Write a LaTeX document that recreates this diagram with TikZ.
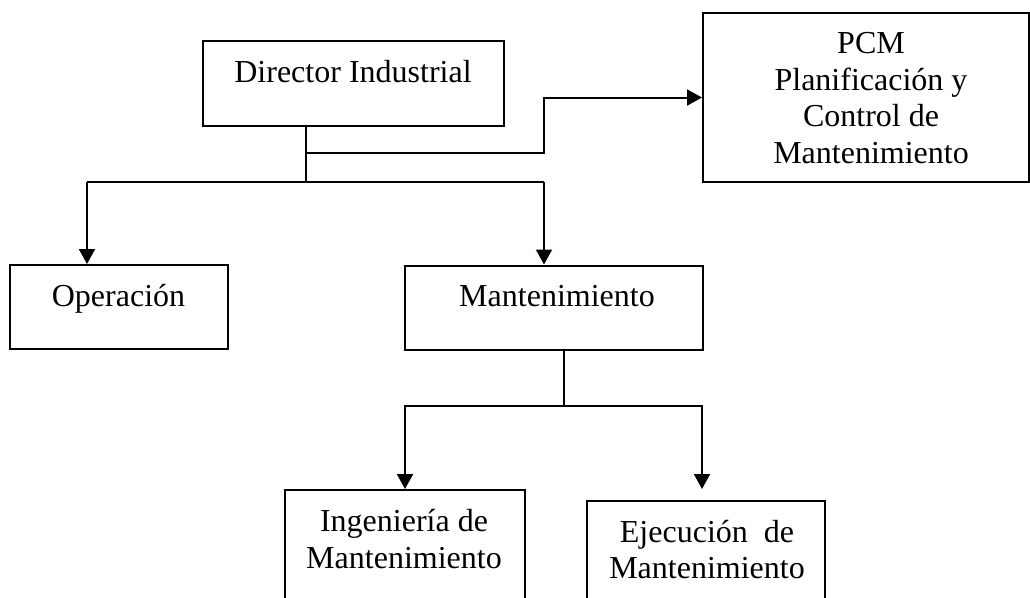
\documentclass[tikz,border=0pt]{standalone}
\usepackage{fontspec}
\setmainfont{Liberation Serif}
\usetikzlibrary{arrows.meta,calc}
\begin{document}
\begin{tikzpicture}[x=1pt,y=-1pt,line width=2pt,
  box/.style={draw,rectangle,inner sep=0pt},
  lbl/.style={font=\fontsize{32}{36.7}\selectfont,align=center,anchor=base,inner sep=0pt},
  arr/.style={-{Triangle[width=16pt,length=15pt]}}]
\useasboundingbox (0,0) rectangle (1030,597);
\clip (0,0) rectangle (1030,597);
\fill[white] (0,0) rectangle (1030,597);
% boxes
\node[box,minimum width=301pt,minimum height=84.7pt] (dir) at (353.5,83.3) {};
\node[box,minimum width=326pt,minimum height=168.4pt] (pcm) at (866,97.5) {};
\node[box,minimum width=217.7pt,minimum height=84pt] (op) at (118.8,307) {};
\node[box,minimum width=298pt,minimum height=84pt] (man) at (554,307.5) {};
\node[box,minimum width=240pt,minimum height=130pt] (ing) at (405,555) {};
\node[box,minimum width=238pt,minimum height=130pt] (eje) at (706,566) {};
% labels (base = baseline of the last line)
\node[lbl] (tdir) at (353,82) {Director Industrial};
\node[lbl] (tpcm) at (871,163.6) {PCM\\Planificación y\\Control de\\Mantenimiento};
\node[lbl] (top) at (118.5,306.5) {Operación};
\node[lbl] (tman) at (557,306.5) {Mantenimiento};
\node[lbl] (ting) at (404,568.2) {Ingeniería de\\Mantenimiento};
\node[lbl] (teje) at (707,578.7) {Ejecución~~de\\Mantenimiento};
% connectors
\coordinate (j1) at (306,182);
\coordinate (j2) at (306,153.3);
\coordinate (k) at (544,153.3);
\coordinate (bl) at (87,182);
\coordinate (br) at (544,182);
\draw (dir.south -| j1) -- (j1);
\draw (bl) -- (br);
\draw[arr] (bl) -- (bl |- op.north);
\draw[arr] (br) -- (br |- man.north);
\draw[arr] (j2) -- (k) |- (pcm.west);
\coordinate (j3) at (564,406);
\coordinate (e1) at (702,489);
\draw (man.south -| j3) -- (j3);
\draw[arr] (j3) -| (ing.north);
\draw[arr] (j3) -| (e1);
\end{tikzpicture}
\end{document}
